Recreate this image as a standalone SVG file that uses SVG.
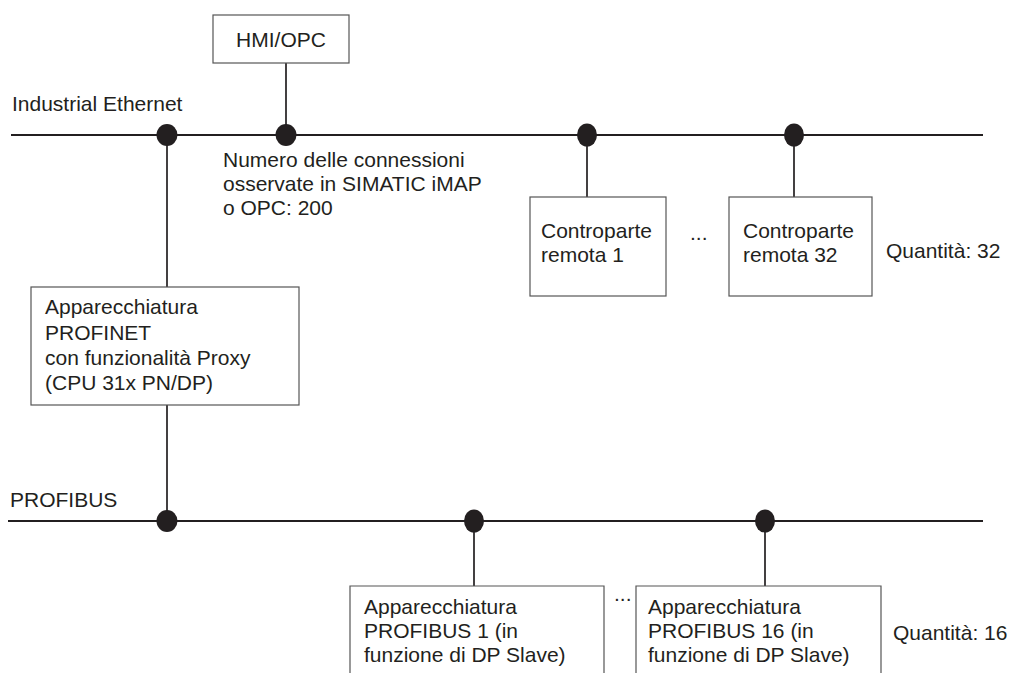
<svg xmlns="http://www.w3.org/2000/svg" width="1009" height="673" viewBox="0 0 1009 673">
  <style>
    text { font-family: "Liberation Sans", Arial, sans-serif; font-size: 21px; fill: #231f20; }
    .box { fill: #ffffff; stroke: #555555; stroke-width: 1.2; }
    .bus { stroke: #231f20; stroke-width: 2.2; fill: none; }
    .drop { stroke: #231f20; stroke-width: 1.7; fill: none; }
    .tap { fill: #231f20; }
  </style>
  <rect width="1009" height="673" fill="#ffffff"/>

  <!-- bus lines, drops and tap points -->
  <g id="connectors">
    <line class="bus" x1="11" y1="135" x2="983" y2="135"/>
    <line class="bus" x1="8" y1="521" x2="983" y2="521"/>
    <line class="drop" x1="286" y1="63" x2="286" y2="135"/>
    <line class="drop" x1="167" y1="135" x2="167" y2="287"/>
    <line class="drop" x1="167" y1="405" x2="167" y2="521"/>
    <line class="drop" x1="587" y1="135" x2="587" y2="197"/>
    <line class="drop" x1="794" y1="135" x2="794" y2="197"/>
    <line class="drop" x1="474" y1="521" x2="474" y2="586"/>
    <line class="drop" x1="765" y1="521" x2="765" y2="586"/>
    <ellipse class="tap" cx="167" cy="135" rx="10.5" ry="11"/>
    <ellipse class="tap" cx="286" cy="135" rx="10.5" ry="11"/>
    <ellipse class="tap" cx="587" cy="135" rx="10" ry="11.5"/>
    <ellipse class="tap" cx="794" cy="135" rx="10" ry="11.5"/>
    <ellipse class="tap" cx="167" cy="521" rx="10.5" ry="11"/>
    <ellipse class="tap" cx="474" cy="521" rx="10" ry="11.5"/>
    <ellipse class="tap" cx="765" cy="521" rx="10" ry="11.5"/>
  </g>

  <!-- bus labels and notes -->
  <g id="labels">
    <text x="12" y="111">Industrial Ethernet</text>
    <text x="10" y="507">PROFIBUS</text>
    <text x="223" y="167">Numero delle connessioni</text>
    <text x="223" y="191">osservate in SIMATIC iMAP</text>
    <text x="223" y="215">o OPC: 200</text>
    <text x="690" y="240">...</text>
    <text x="886" y="258">Quantità: 32</text>
    <text x="614" y="601">...</text>
    <text x="893" y="640">Quantità: 16</text>
  </g>

  <g id="hmi">
    <rect class="box" x="213" y="15" width="136" height="48"/>
    <text x="281" y="47" text-anchor="middle">HMI/OPC</text>
  </g>

  <g id="proxy">
    <rect class="box" x="31" y="287" width="268" height="118"/>
    <text x="45" y="314">Apparecchiatura</text>
    <text x="45" y="340">PROFINET</text>
    <text x="45" y="365">con funzionalità Proxy</text>
    <text x="45" y="390">(CPU 31x PN/DP)</text>
  </g>

  <g id="remote1">
    <rect class="box" x="530" y="197" width="136" height="99"/>
    <text x="541" y="238">Controparte</text>
    <text x="541" y="262">remota 1</text>
  </g>

  <g id="remote32">
    <rect class="box" x="729" y="197" width="143" height="99"/>
    <text x="743" y="238">Controparte</text>
    <text x="743" y="262">remota 32</text>
  </g>

  <!-- slave boxes run past the lower edge -->
  <g id="slave1">
    <path class="box" d="M350,680 V586 H604 V680"/>
    <text x="364" y="614">Apparecchiatura</text>
    <text x="364" y="638">PROFIBUS 1 (in</text>
    <text x="364" y="662">funzione di DP Slave)</text>
  </g>

  <g id="slave16">
    <path class="box" d="M636,680 V586 H881 V680"/>
    <text x="648" y="614">Apparecchiatura</text>
    <text x="648" y="638">PROFIBUS 16 (in</text>
    <text x="648" y="662">funzione di DP Slave)</text>
  </g>
</svg>
